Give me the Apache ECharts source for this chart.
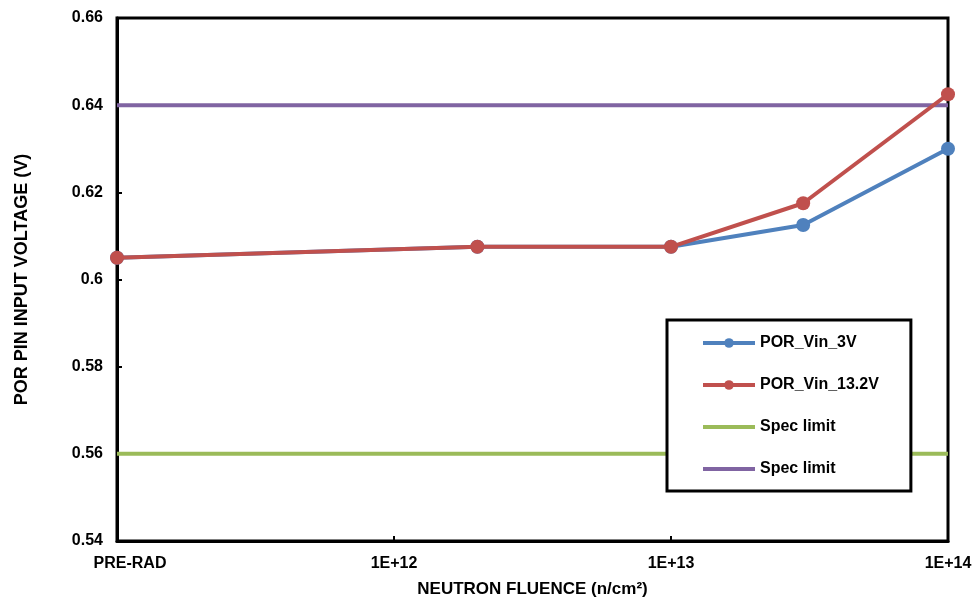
<!DOCTYPE html>
<html><head><meta charset="utf-8">
<script src="https://cdn.jsdelivr.net/npm/echarts@6/dist/echarts.min.js"></script>
<style>html,body{margin:0;padding:0;background:#fff}#c{width:979px;height:599px}</style>
</head><body><div id="c"></div>
<script>
const fluence = [1e11, 2e12, 1e13, 3e13, 1e14];
const vin3 = [0.605, 0.6075, 0.6075, 0.6125, 0.630];
const vin132 = [0.605, 0.6075, 0.6075, 0.6175, 0.6425];
const specLow = 0.56;
const specHigh = 0.64;
const xRange = [1e11, 1e14];
const yTicks = [0.54, 0.56, 0.58, 0.60, 0.62, 0.64, 0.66];

const font = '"Liberation Sans", Arial, sans-serif';
const chart = echarts.init(document.getElementById('c'));
const pair = (xs, ys) => xs.map((x, i) => [x, ys[i]]);
chart.setOption({
  animation: false,
  grid: {left: 117, right: 31, top: 18, bottom: 58, show: true, borderColor: '#000', borderWidth: 3,
    backgroundColor: '#fff', containLabel: false, outerBoundsMode: 'none'},
  xAxis: {
    type: 'log', logBase: 10, min: xRange[0], max: xRange[1],
    name: 'NEUTRON FLUENCE (n/cm²)', nameLocation: 'middle', nameGap: 40,
    nameTextStyle: {fontFamily: font, fontWeight: 'bold', fontSize: 17, color: '#000'},
    axisLine: {lineStyle: {color: '#000', width: 3}},
    axisTick: {inside: true, length: 5, lineStyle: {color: '#000', width: 2}},
    splitLine: {show: false}, minorTick: {show: false},
    axisLabel: {margin: 15, fontFamily: font, fontWeight: 'bold', fontSize: 16, color: '#000',
      rich: {p: {fontFamily: font, fontWeight: 'bold', fontSize: 16, color: '#000', padding: [0, 0, 0, 26]}},
      formatter: v => v <= xRange[0] * 1.0001 ? '{p|PRE-RAD}' : '1E+' + Math.round(Math.log10(v))}
  },
  yAxis: {
    type: 'value', min: yTicks[0], max: yTicks[yTicks.length - 1], interval: 0.02,
    name: 'POR PIN INPUT VOLTAGE (V)', nameLocation: 'middle', nameGap: 86,
    nameTextStyle: {fontFamily: font, fontWeight: 'bold', fontSize: 18, color: '#000'},
    axisLine: {show: true, lineStyle: {color: '#000', width: 3}},
    axisTick: {show: true, inside: true, length: 5, lineStyle: {color: '#000', width: 2}},
    splitLine: {show: false},
    axisLabel: {margin: 14, fontFamily: font, fontWeight: 'bold', fontSize: 16, color: '#000',
      formatter: v => String(parseFloat(v.toFixed(2)))}
  },
  legend: {
    orient: 'vertical', left: 667, top: 320,
    padding: [15, 32, 14, 34], itemGap: 26, itemWidth: 52, itemHeight: 12,
    backgroundColor: '#fff', borderColor: '#000', borderWidth: 3,
    lineStyle: {width: 4},
    textStyle: {fontFamily: font, fontWeight: 'bold', fontSize: 16, color: '#000'},
    data: [
      'POR_Vin_3V', 'POR_Vin_13.2V',
      {name: 'Spec limit', itemStyle: {opacity: 0}},
      {name: 'Spec limit ', itemStyle: {opacity: 0}}
    ]
  },
  series: [
    {name: 'Spec limit', type: 'line', data: pair(xRange, [specLow, specLow]), symbol: 'none',
      lineStyle: {color: '#9BBB59', width: 4}, itemStyle: {color: '#9BBB59'}, z: 1},
    {name: 'Spec limit ', type: 'line', data: pair(xRange, [specHigh, specHigh]), symbol: 'none',
      lineStyle: {color: '#8064A2', width: 4}, itemStyle: {color: '#8064A2'}, z: 1},
    {name: 'POR_Vin_3V', type: 'line', data: pair(fluence, vin3), symbol: 'circle', symbolSize: 14,
      lineStyle: {color: '#4F81BD', width: 4}, itemStyle: {color: '#4F81BD'}, z: 2},
    {name: 'POR_Vin_13.2V', type: 'line', data: pair(fluence, vin132), symbol: 'circle', symbolSize: 14,
      lineStyle: {color: '#C0504D', width: 4}, itemStyle: {color: '#C0504D'}, z: 3}
  ]
});
</script></body></html>
